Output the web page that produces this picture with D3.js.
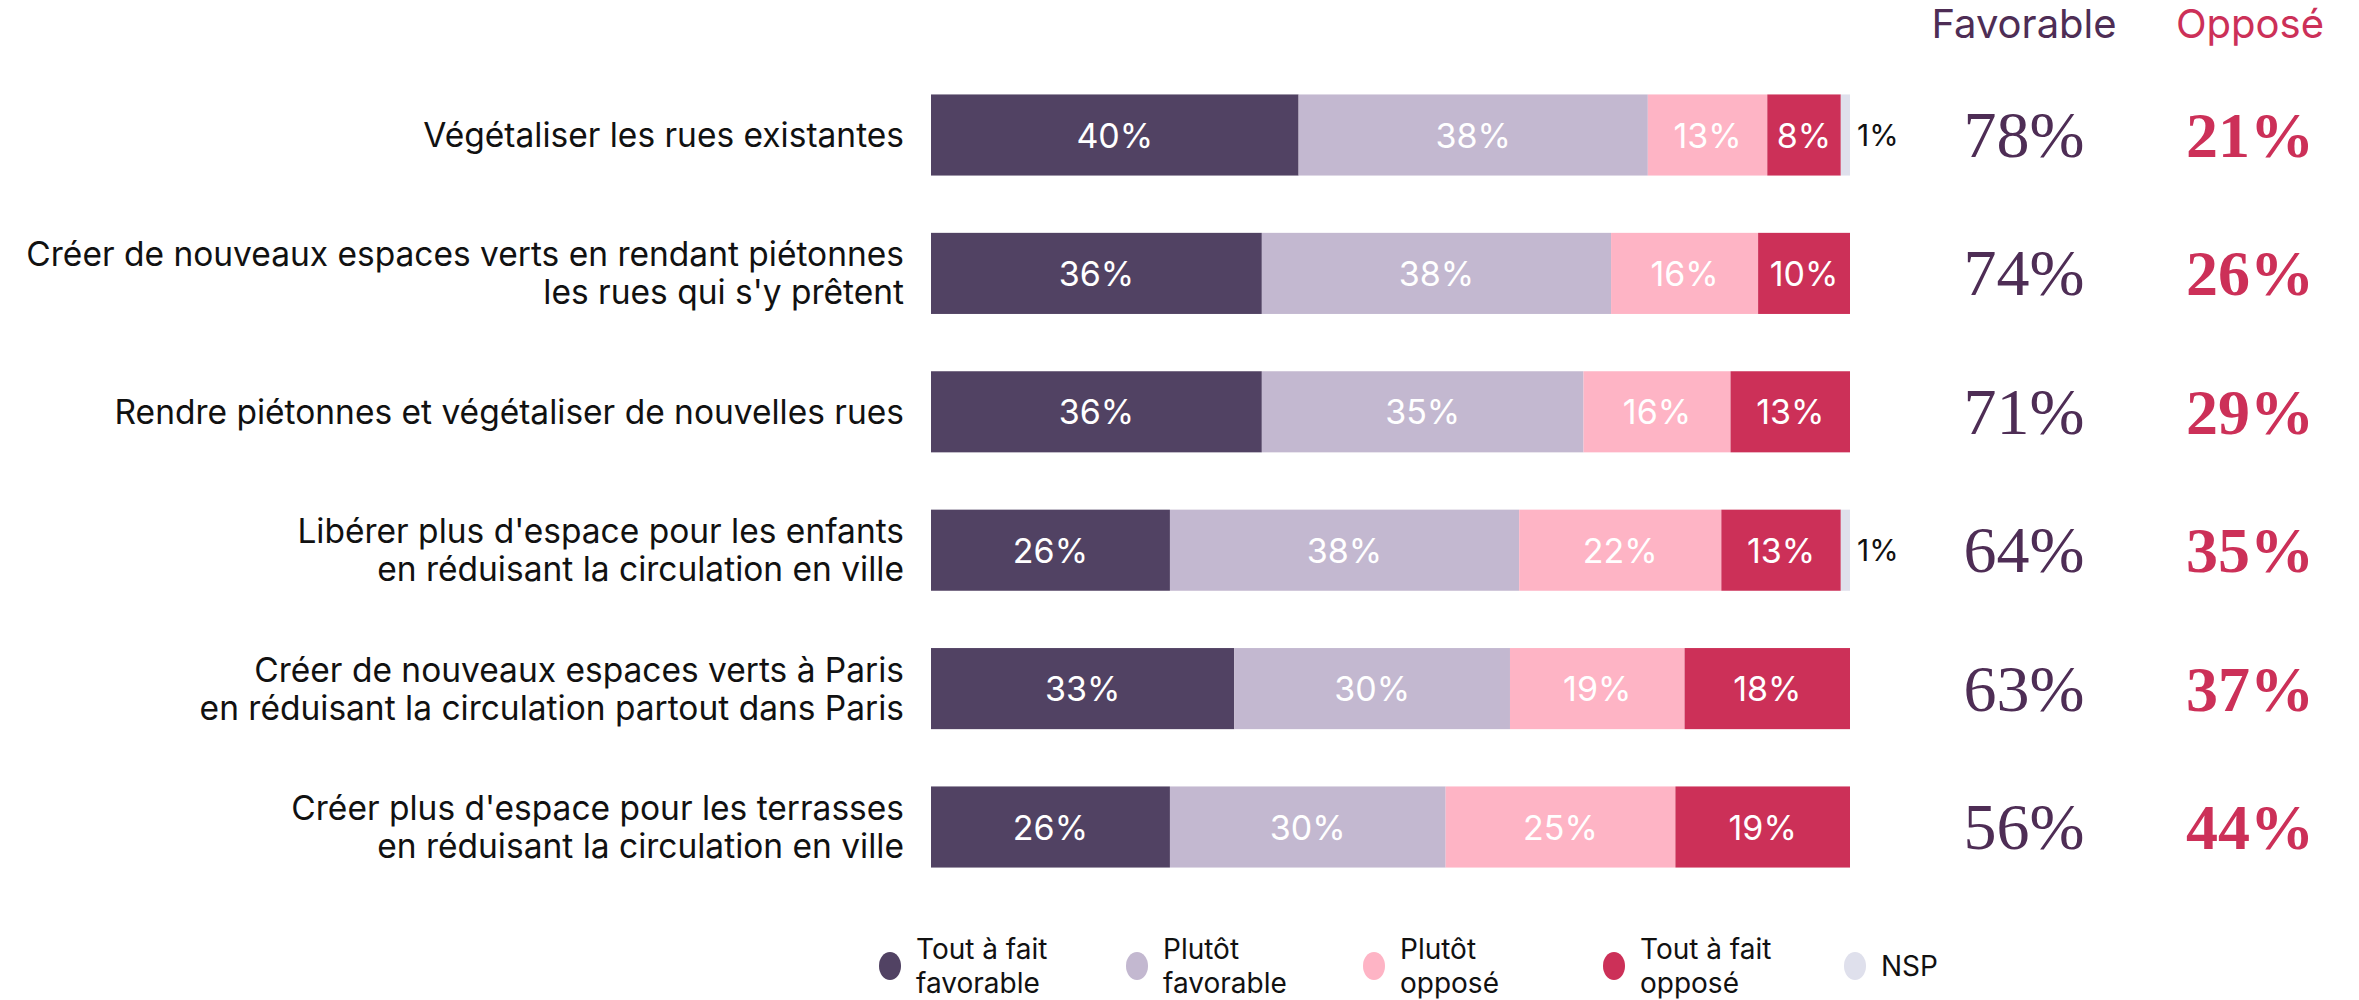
<!DOCTYPE html>
<html>
<head>
<meta charset="utf-8">
<script src="https://cdn.jsdelivr.net/npm/d3@7"></script>
<style>
  body { margin: 0; background: #fff; }
  svg { display: block; font-family: Inter, "Noto Sans", sans-serif; }
</style>
</head>
<body>
<script>
const w = 2359;
const h = 1000;

// data
const categories = [
  "Végétaliser les rues existantes",
  "Créer de nouveaux espaces verts en rendant piétonnes\nles rues qui s'y prêtent",
  "Rendre piétonnes et végétaliser de nouvelles rues",
  "Libérer plus d'espace pour les enfants\nen réduisant la circulation en ville",
  "Créer de nouveaux espaces verts à Paris\nen réduisant la circulation partout dans Paris",
  "Créer plus d'espace pour les terrasses\nen réduisant la circulation en ville"
];
const toutFavorable   = [40, 36, 36, 26, 33, 26];
const plutotFavorable = [38, 38, 35, 38, 30, 30];
const plutotOppose    = [13, 16, 16, 22, 19, 25];
const toutOppose      = [8, 10, 13, 13, 18, 19];
const nsp             = [1, 0, 0, 1, 0, 0];
const totalFavorable  = [78, 74, 71, 64, 63, 56];
const totalOppose     = [21, 26, 29, 35, 37, 44];

const keys = ["tf", "pf", "po", "to", "nsp"];
const legendLabels = [["Tout à fait", "favorable"], ["Plutôt", "favorable"], ["Plutôt", "opposé"], ["Tout à fait", "opposé"], ["NSP"]];
const colors = ["#514263", "#c3b8d0", "#feb4c5", "#cc3058", "#dfe0ec"];

const rows = categories.map((c, i) => ({
  cat: c, tf: toutFavorable[i], pf: plutotFavorable[i], po: plutotOppose[i],
  to: toutOppose[i], nsp: nsp[i], fav: totalFavorable[i], opp: totalOppose[i]
}));

const xScale = d3.scaleLinear().domain([0, 100]).range([931, 1850]);
const yScale = d3.scaleBand().domain(categories).range([65.8, 896.2])
  .paddingInner(0.414).paddingOuter(0.207);
const color = d3.scaleOrdinal().domain(keys).range(colors);

const svg = d3.select("body").append("svg").attr("width", w).attr("height", h);

const series = d3.stack().keys(keys)(rows);

const layer = svg.selectAll("g.layer")
  .data(series)
  .enter()
  .append("g")
  .attr("class", "layer")
  .attr("fill", d => color(d.key));

layer.selectAll("rect")
  .data(d => d)
  .enter()
  .append("rect")
  .attr("x", d => xScale(d[0]))
  .attr("y", d => yScale(d.data.cat))
  .attr("width", d => xScale(d[1]) - xScale(d[0]))
  .attr("height", yScale.bandwidth());

// labels inside segments (white), tiny NSP outside (black)
series.forEach(s => {
  s.forEach(d => {
    const v = d[1] - d[0];
    if (v <= 0) return;
    const cy = yScale(d.data.cat) + yScale.bandwidth() / 2;
    if (s.key === "nsp") {
      svg.append("text")
        .attr("x", xScale(d[1]) + 7)
        .attr("y", cy)
        .attr("dominant-baseline", "central")
        .attr("font-size", 30)
        .attr("fill", "#111")
        .text(v + "%");
    } else {
      svg.append("text")
        .attr("x", (xScale(d[0]) + xScale(d[1])) / 2)
        .attr("y", cy)
        .attr("text-anchor", "middle")
        .attr("dominant-baseline", "central")
        .attr("font-size", 34)
        .attr("fill", "#fff")
        .text(v + "%");
    }
  });
});

// category labels
rows.forEach(r => {
  const lines = r.cat.split("\n");
  const cy = yScale(r.cat) + yScale.bandwidth() / 2;
  const lh = 38;
  const t = svg.append("text")
    .attr("text-anchor", "end")
    .attr("font-size", 33.5)
    .attr("fill", "#111");
  lines.forEach((l, j) => {
    t.append("tspan")
      .attr("x", 904)
      .attr("y", cy + (j - (lines.length - 1) / 2) * lh)
      .attr("dominant-baseline", "central")
      .text(l);
  });
});

// totals columns
const favX = 2024, oppX = 2250;
const serif = "'Liberation Serif', 'DejaVu Serif', serif";
svg.append("text").attr("x", favX).attr("y", 38).attr("text-anchor", "middle")
  .attr("font-size", 40).attr("fill", "#4e2d55").text("Favorable");
svg.append("text").attr("x", oppX).attr("y", 38).attr("text-anchor", "middle")
  .attr("font-size", 40).attr("fill", "#cc3058").text("Opposé");

rows.forEach(r => {
  const cy = yScale(r.cat) + yScale.bandwidth() / 2;
  svg.append("text").attr("x", favX).attr("y", cy + 22).attr("text-anchor", "middle")
    .attr("font-family", serif)
    .attr("font-size", 66).attr("fill", "#4e2d55").text(r.fav + "%");
  svg.append("text").attr("x", oppX).attr("y", cy + 22).attr("text-anchor", "middle")
    .attr("font-family", serif)
    .attr("font-weight", "bold")
    .attr("font-size", 64).attr("fill", "#cc3058").text(r.opp + "%");
});

// legend
const legendX = [890, 1137, 1374, 1614, 1855];
const lg = svg.selectAll("g.legend")
  .data(keys)
  .enter()
  .append("g")
  .attr("class", "legend")
  .attr("transform", (d, i) => "translate(" + legendX[i] + ",966)");

lg.append("ellipse").attr("rx", 11).attr("ry", 14).attr("fill", d => color(d));

lg.each(function(d, i) {
  const lines = legendLabels[i];
  const t = d3.select(this).append("text").attr("font-size", 28).attr("fill", "#111");
  lines.forEach((l, j) => {
    t.append("tspan")
      .attr("x", 26)
      .attr("y", (j - (lines.length - 1) / 2) * 34)
      .attr("dominant-baseline", "central")
      .text(l);
  });
});
</script>
</body>
</html>
